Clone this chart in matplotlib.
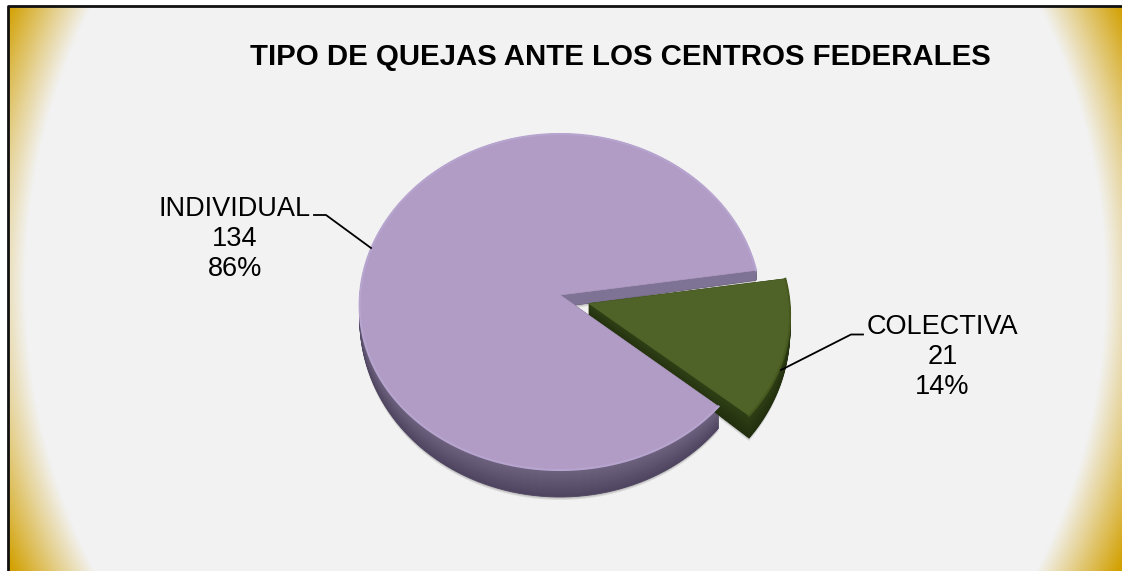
import numpy as np
import matplotlib.pyplot as plt
import matplotlib.colors as mcolors

plt.rcParams["font.family"] = ["Liberation Sans", "DejaVu Sans"]

# chart data
categories = ["INDIVIDUAL", "COLECTIVA"]
values = [134, 21]
percent_labels = ["86%", "14%"]
title = "TIPO DE QUEJAS ANTE LOS CENTROS FEDERALES"

# colours of the slices: top face, rim, side lighter, side darker
top_colors = ["#B19CC5", "#4F6228"]
rim_colors = ["#B7A5D0", "#47591F"]
side_colors = [("#6E6480", "#4F4560"), ("#2F4015", "#222F0E")]
wall_color = "#7E7394"

# pie geometry in pixels
start_angle = 8.5
explode = [0.0, 0.15]
cx, cy = 560, 295
rx, ry = 200, 168


def project(u, v):
    # fake perspective, the near half of the pie is a bit bigger
    x = cx + rx * u * (1 + 0.06 * v)
    y = cy + ry * v + 7 * v**2
    return x, y


def depth(v):
    return np.clip(12 + 15 * v, 4, None)


def wedge_outline(theta1, theta2, offset):
    # theta runs counter clockwise from the right, v points down the screen
    t = np.radians(np.linspace(theta1, theta2, 160))
    u = np.r_[0, np.cos(t), 0] + offset[0]
    v = np.r_[0, -np.sin(t), 0] + offset[1]
    return u, v


def draw_side(ax, u, v, colors, zorder):
    x, y = project(u, v)
    d = depth(v)
    light = np.array(mcolors.to_rgb(colors[0]))
    dark = np.array(mcolors.to_rgb(colors[1]))
    for f in np.linspace(1, 0, 28):
        ax.fill(x, y + f * d, color=light + (dark - light) * f, lw=0.6, zorder=zorder)
    # soft shadow under the side
    for k in [1.0, 2.0, 3.0]:
        ax.fill(x, y + d + k, color="#555555", alpha=0.13, lw=0, zorder=1.5)


fig = plt.figure(figsize=(11.22, 5.71), dpi=100)
ax = fig.add_axes([0, 0, 1, 1])
ax.set_xlim(0, 1122)
ax.set_ylim(571, 0)
ax.axis("off")

# background, light grey with gold corners
xx, yy = np.meshgrid(np.arange(9, 1122), np.arange(6, 571))
dist = np.sqrt(((xx - 565) / 540.0) ** 2 + ((yy - 285) / 581.0) ** 2)
fade = np.clip((dist - 1.0) / 0.137, 0, 1)[..., None]
grey = np.array(mcolors.to_rgb("#F2F2F2"))
gold = np.array(mcolors.to_rgb("#D2A000"))
ax.imshow(grey + (gold - grey) * fade, extent=(9, 1122, 571, 6), aspect="auto", zorder=0)
ax.set_xlim(0, 1122)
ax.set_ylim(571, 0)

ax.plot([8.5, 8.5, 1122], [571, 5.5, 5.5], color="#111111", lw=2, zorder=1)

# slices, clockwise from the start angle
sweeps = np.array(values) / np.sum(values) * 360
t1_purple = start_angle
t2_purple = start_angle + sweeps[0]
t2_green = start_angle
t1_green = start_angle - sweeps[1]
mid = np.radians((t1_green + t2_green) / 2)
off = (explode[1] * np.cos(mid), -explode[1] * np.sin(mid) + 0.01)

u_p, v_p = wedge_outline(t1_purple, t2_purple, (0, 0))
u_g, v_g = wedge_outline(t1_green, t2_green, off)

draw_side(ax, u_p, v_p, side_colors[0], 2)

# cut face of the big slice, seen behind the pulled out one
u_w = np.array([0, np.cos(np.radians(start_angle))])
v_w = np.array([0, -np.sin(np.radians(start_angle))])
x_w, y_w = project(u_w, v_w)
d_w = depth(v_w)
ax.fill(np.r_[x_w, x_w[::-1]], np.r_[y_w, (y_w + d_w)[::-1]], color=wall_color, lw=0.5, zorder=2.5)

draw_side(ax, u_g, v_g, side_colors[1], 3)

x_p, y_p = project(u_p, v_p)
x_g, y_g = project(u_g, v_g)
ax.fill(x_p, y_p, color=top_colors[0], lw=0.5, zorder=4)
ax.fill(x_g, y_g, color=top_colors[1], lw=0.5, zorder=5)

# lighter rim along the round edge
ax.plot(x_p[1:-1], y_p[1:-1], color=rim_colors[0], lw=1.5, zorder=4.5)
ax.plot(x_g[1:-1], y_g[1:-1], color=rim_colors[1], lw=1.5, zorder=5.5)

# leader lines
ax.plot([314, 326, 371], [215, 215, 248], color="black", lw=1.3, zorder=6)
ax.plot([781, 851, 863], [370, 334.5, 334.5], color="black", lw=1.3, zorder=6)

# labels
ax.text(235, 239, "{}\n{}\n{}".format(categories[0], values[0], percent_labels[0]),
        ha="center", va="center", fontsize=19.5, linespacing=1.215, zorder=7)
ax.text(942.5, 357, "{}\n{}\n{}".format(categories[1], values[1], percent_labels[1]),
        ha="center", va="center", fontsize=19.5, linespacing=1.215, zorder=7)
ax.text(620, 57, title, ha="center", va="center", fontsize=21.2, fontweight="bold", zorder=7)

fig.savefig("out.png", dpi=100)
